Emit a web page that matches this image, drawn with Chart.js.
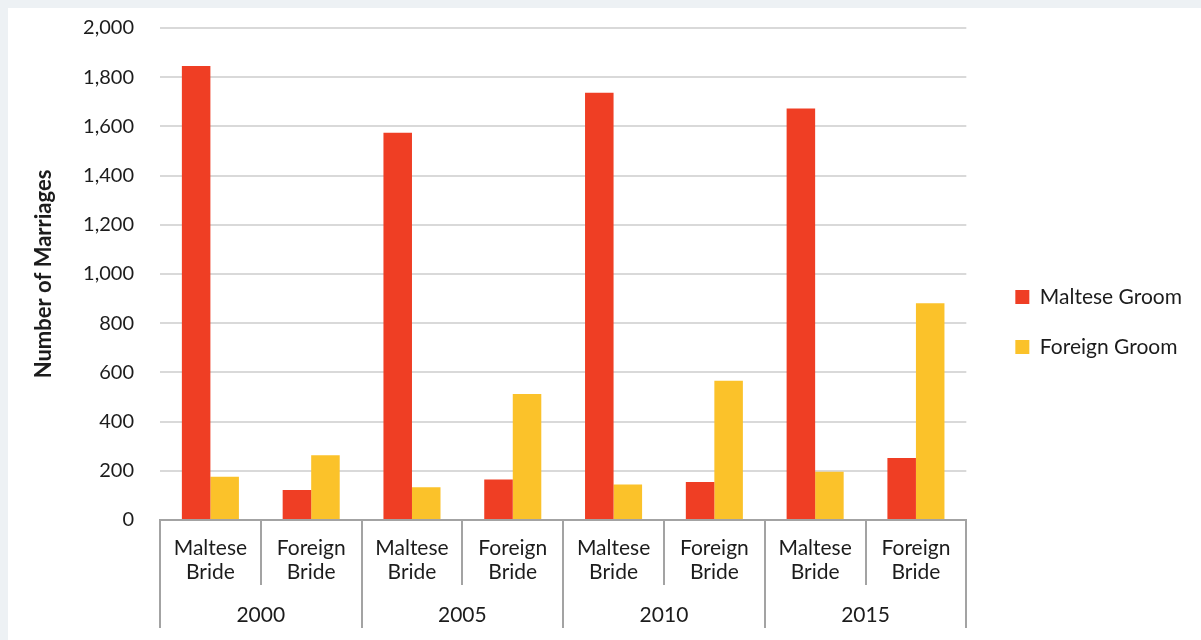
<!DOCTYPE html>
<html>
<head>
<meta charset="utf-8">
<title>Marriages by nationality</title>
<script src="https://cdn.jsdelivr.net/npm/chart.js@4.4.1/dist/chart.umd.min.js"></script>
<style>
  html, body { margin: 0; padding: 0; background: #edf1f4; }
  #panel { position: absolute; left: 8px; top: 8px; width: 1193px; height: 632px; background: #fff; }
</style>
</head>
<body>
<div id="panel"><canvas id="chart" width="1193" height="632"></canvas></div>
<script>
'use strict';
// categories: bride nationality inside each year
var brideLabels = [
    ['Maltese', 'Bride'], ['Foreign', 'Bride'],
    ['Maltese', 'Bride'], ['Foreign', 'Bride'],
    ['Maltese', 'Bride'], ['Foreign', 'Bride'],
    ['Maltese', 'Bride'], ['Foreign', 'Bride']
];
var years = ['2000', '2005', '2010', '2015'];

// series
var malteseGroom = [1846, 122, 1574, 165, 1737, 154, 1673, 252];
var foreignGroom = [176, 263, 133, 512, 144, 566, 196, 881];

var yMax = 2000;
var yStep = 200;

var FONT = 'Lato, "DejaVu Sans", sans-serif';
var INK = '#1c1c1c';
var AXIS = '#a3a3a3';
var LEGEND_GAP = 20;

// leave an empty strip between the plot and the legend
var legendGap = {
    id: 'legendGap',
    beforeLayout: function (chart) {
        var lg = chart.legend;
        if (lg && !lg._gapPatched) {
            var fit = lg.fit;
            lg.fit = function () {
                fit.apply(this, arguments);
                this.width += LEGEND_GAP;
            };
            lg._gapPatched = true;
        }
    },
    afterLayout: function (chart) {
        if (chart.legend) {
            chart.legend.left += LEGEND_GAP;
        }
    }
};

var ctx = document.getElementById('chart').getContext('2d');
var chart = new Chart(ctx, {
    type: 'bar',
    data: {
        labels: brideLabels,
        datasets: [
            { label: 'Maltese Groom', data: malteseGroom, backgroundColor: '#ef3e24' },
            { label: 'Foreign Groom', data: foreignGroom, backgroundColor: '#fbc22a' }
        ]
    },
    plugins: [legendGap],
    options: {
        responsive: false,
        animation: false,
        events: [],
        layout: { padding: { top: 8, bottom: 12, left: 23, right: 9 } },
        datasets: { bar: { barPercentage: 1, categoryPercentage: 0.566 } },
        scales: {
            x: {
                position: 'bottom',
                grid: { offset: true, drawOnChartArea: false, color: AXIS, lineWidth: 2, tickLength: 65 },
                border: { display: true, color: AXIS, width: 2 },
                ticks: { color: INK, padding: -49, maxRotation: 0, autoSkip: false,
                         font: { family: FONT, size: 21, lineHeight: '24px' } },
                afterFit: function (scale) { scale.height = 65; }
            },
            x2: {
                type: 'category',
                labels: years,
                position: 'bottom',
                offset: true,
                grid: { offset: true, drawOnChartArea: false, color: AXIS, lineWidth: 2, tickLength: 43 },
                border: { display: false },
                ticks: { color: INK, padding: -25, maxRotation: 0,
                         font: { family: FONT, size: 21, lineHeight: '24px' } },
                afterFit: function (scale) { scale.height = 43; }
            },
            y: {
                min: 0,
                max: yMax,
                ticks: {
                    stepSize: yStep,
                    color: INK,
                    padding: 26,
                    font: { family: FONT, size: 20, lineHeight: 1.2 },
                    callback: function (v) { return v.toLocaleString('en-US'); }
                },
                grid: { color: '#d9d9d9', lineWidth: 2, drawTicks: false },
                border: { display: false },
                title: {
                    display: true,
                    text: 'Number of Marriages',
                    color: INK,
                    padding: { top: 0, bottom: 0 },
                    font: { family: FONT, size: 22, weight: 'bold', lineHeight: 1.2 }
                },
                afterFit: function (scale) {
                    scale.width = 129;
                    scale.paddingTop = 20;
                }
            }
        },
        plugins: {
            legend: {
                position: 'right',
                align: 'center',
                labels: {
                    boxWidth: 14,
                    boxHeight: 14,
                    padding: 29,
                    color: INK,
                    font: { family: FONT, size: 21 }
                }
            },
            tooltip: { enabled: false }
        }
    }
});
</script>
</body>
</html>
